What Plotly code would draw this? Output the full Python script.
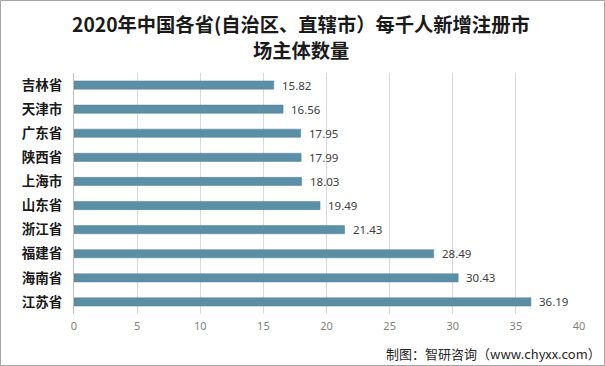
import plotly.graph_objects as go

provinces = ["吉林省", "天津市", "广东省", "陕西省", "上海市", "山东省", "浙江省", "福建省", "海南省", "江苏省"]
values = [15.82, 16.56, 17.95, 17.99, 18.03, 19.49, 21.43, 28.49, 30.43, 36.19]
x_ticks = [0, 5, 10, 15, 20, 25, 30, 35, 40]
title_lines = ["2020年中国各省(自治区、直辖市）每千人新增注册市", "场主体数量"]

W, H = 605, 366
L, R, T, B = 74, 26, 73, 52
PW, PH = W - L - R, H - T - B


def px_x(x):
    return (x - L) / PW


def px_y(y):
    return 1 - (y - T) / PH


fig = go.Figure()
fig.add_trace(go.Bar(
    y=provinces, x=values, orientation="h",
    marker=dict(color="#5b8fa6", line=dict(color="#4f7f96", width=0.5)),
    width=0.34, hoverinfo="x+y",
))

for p, v in zip(provinces, values):
    fig.add_annotation(
        x=v, y=p, xref="x", yref="y", text=f"{v:.2f}", showarrow=False,
        xanchor="left", yanchor="middle", xshift=6,
        font=dict(family="Noto Sans, DejaVu Sans", size=11.5, color="#404040"),
    )

fig.update_layout(
    width=W, height=H,
    margin=dict(l=L, r=R, t=T, b=B, autoexpand=False),
    paper_bgcolor="white", plot_bgcolor="white",
    showlegend=False,
    xaxis=dict(
        range=[0, 40], tickvals=x_ticks, showgrid=True, gridcolor="#d9d9d9", gridwidth=1,
        zeroline=False, showline=False,
        tickfont=dict(family="Noto Sans, DejaVu Sans", size=11, color="#7f7f7f"),
        ticks="", ticklabelstandoff=4,
    ),
    yaxis=dict(
        autorange="reversed", showline=True, linecolor="#bfbfbf", linewidth=1,
        tickfont=dict(family="Noto Sans CJK SC", size=13.5, color="#1a1a1a", weight="bold"),
        ticks="", ticklabelstandoff=8,
    ),
    bargap=0.66,
)

for line, yc in zip(title_lines, [24, 50]):
    fig.add_annotation(
        text=line, xref="paper", yref="paper", x=px_x(301), y=px_y(yc),
        xanchor="center", yanchor="middle", showarrow=False,
        font=dict(family="Noto Sans CJK SC", size=19.3, color="#1a1a1a", weight="bold"),
    )

fig.add_annotation(
    text="制图：智研咨询（www.chyxx.com）", xref="paper", yref="paper",
    x=px_x(603), y=px_y(353), xanchor="right", yanchor="middle", showarrow=False,
    font=dict(family="Noto Sans CJK SC", size=13, color="#262626"),
)

fig.add_shape(type="rect", xref="paper", yref="paper",
              x0=px_x(0.5), x1=px_x(W - 0.5), y0=px_y(H - 0.5), y1=px_y(0.5),
              line=dict(color="#a6a6a6", width=1), fillcolor="rgba(0,0,0,0)")

fig.write_html("out.html", config={"displayModeBar": False},
               post_script="document.body.style.margin='0';")
